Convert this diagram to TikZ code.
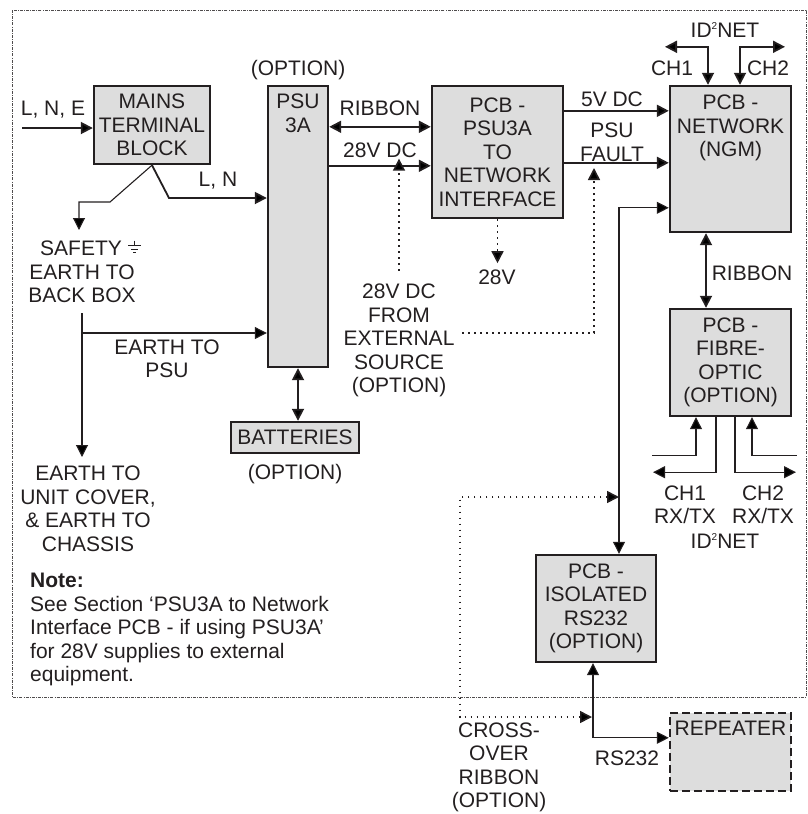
\documentclass[tikz,border=0pt]{standalone}
\usepackage{fontspec}
\setmainfont{Liberation Sans}
\usetikzlibrary{arrows.meta,positioning}

\definecolor{boxgray}{RGB}{221,221,221}
\definecolor{ink}{RGB}{35,31,32}

% earth symbol after SAFETY
\newcommand{\gndsym}{\tikz[x=1pt,y=1pt,baseline=0pt,line width=1.1pt]{%
  \draw (6.5,15)--(6.5,10) (0,10)--(13,10) (3,6.5)--(10,6.5) (5,3)--(8,3);}}
\newcommand{\idnet}{ID\raisebox{8pt}{\fontsize{10pt}{10pt}\selectfont 2}NET}

\begin{document}
\begin{tikzpicture}[
    x=1pt, y=-1pt,
    >={Triangle[length=12pt,width=12pt]},
    every node/.style={font=\fontsize{21pt}{23.5pt}\selectfont, text=ink},
    box/.style={draw=ink, line width=2.4pt, fill=boxgray, inner sep=0pt, align=center},
    toptxt/.style={anchor=north, inner sep=0pt, align=center},
    lbl/.style={inner sep=0pt, align=center},
    conn/.style={draw=ink, line width=1.8pt},
    thinconn/.style={draw=ink, line width=1.1pt},
    dotline/.style={draw=ink, line width=1.6pt, dash pattern=on 1.6pt off 4.4pt},
    frame/.style={draw=ink!80, line width=0.7pt, dash pattern=on 3pt off 1.2pt on 0.8pt off 1.2pt}
]
    \useasboundingbox (0,0) rectangle (808,814);
    \draw[frame] (12,10) rectangle (806,697);

    % boxes
    \node[box, minimum width=116pt, minimum height=78pt] (mains) at (152,125) {MAINS\\TERMINAL\\BLOCK};
    \node[box, minimum width=60pt, minimum height=281pt] (psu) at (298,226.5) {};
    \node[toptxt, below=9pt of psu.north] (psutxt) {PSU\\3A};
    \node[lbl, above=5pt of psu] (psuopt) {(OPTION)};
    \node[box, minimum width=131pt, minimum height=132pt] (iface) at (497.5,152) {PCB -\\PSU3A\\TO\\NETWORK\\INTERFACE};
    \node[box, minimum width=121pt, minimum height=146pt] (ngm) at (730.5,159) {};
    \node[toptxt, below=10pt of ngm.north] (ngmtxt) {PCB -\\NETWORK\\(NGM)};
    \node[box, minimum width=128pt, minimum height=31pt] (batt) at (295,437.5) {BATTERIES};
    \node[lbl, below=10pt of batt] (battopt) {(OPTION)};
    \node[box, minimum width=121pt, minimum height=107pt] (fibre) at (730.5,362.5) {PCB -\\FIBRE-\\OPTIC\\(OPTION)};
    \node[box, minimum width=120pt, minimum height=107pt] (iso) at (596,608.5) {PCB -\\ISOLATED\\RS232\\(OPTION)};
    \node[box, dash pattern=on 8pt off 4pt, minimum width=121pt, minimum height=78pt] (rep) at (730.5,752) {};
    \node[toptxt, below=9pt of rep.north] (reptxt) {REPEATER};

    % labels
    \node[lbl] (lnelbl) at (53,110) {L, N, E};
    \node[lbl] (lnlbl) at (218,181) {L, N};
    \node[lbl] (ribbonA) at (380,108) {RIBBON};
    \node[lbl] (dcA) at (380,150) {28V DC};
    \node[lbl] (v5lbl) at (612,99) {5V DC};
    \node[lbl] (faultlbl) at (612,142.5) {PSU\\FAULT};
    \node[lbl] (idnetA) at (725,30) {\idnet};
    \node[lbl] (ch1) at (672,68) {CH1};
    \node[lbl] (ch2) at (768,68) {CH2};
    \node[lbl] (v28) at (497,277) {28V};
    \node[lbl] (ext) at (399,340.5) {28V DC\\FROM\\EXTERNAL\\SOURCE\\(OPTION)};
    \node[lbl] (safety) at (82,271.5) {\hspace*{18pt}SAFETY \gndsym\\EARTH TO\\BACK BOX};
    \node[lbl] (ribbonB) at (752,273) {RIBBON};
    \node[lbl] (earthpsu) at (167,359) {EARTH TO\\PSU};
    \node[lbl] (earthcover) at (88,509) {EARTH TO\\UNIT COVER,\\\& EARTH TO\\CHASSIS};
    \node[lbl] (rx1) at (685,505) {CH1\\RX/TX};
    \node[lbl] (rx2) at (763,505) {CH2\\RX/TX};
    \node[lbl] (idnetB) at (725,541) {\idnet};
    \node[lbl, anchor=west, align=left] (note) at (30,629.5)
        {\textbf{Note:}\\See Section ‘PSU3A to Network\\Interface PCB - if using PSU3A’\\for 28V supplies to external\\equipment.};
    \node[lbl] (xover) at (499,767.5) {CROSS-\\OVER\\RIBBON\\(OPTION)};
    \node[lbl] (rs232) at (627,758) {RS232};

    % bends and free ends
    \coordinate (lnein) at (22,128);
    \coordinate (lnbend) at (169,198);
    \coordinate (sfbend) at (110,202);
    \coordinate (sftip) at (79,230);
    \coordinate (etop) at (82,313);
    \coordinate (ejoin) at (82,333);
    \coordinate (etip) at (82,457);
    \coordinate (extR) at (462,333);
    \coordinate (faulttip) at (594,168);
    \coordinate (xotop) at (619,497);
    \coordinate (xobot) at (460,717);
    \coordinate (xotip) at (592,717);

    % mains side
    \draw[conn,->] (lnein) -- (lnein -| mains.west);
    \draw[conn,->] (mains.south) -- (lnbend) -- (lnbend -| psu.west);
    \draw[thinconn,->] (mains.south) -- (sfbend) -| (sftip);
    \draw[thinconn,->] (etop) -- (etip);
    \draw[thinconn,->] (ejoin) -- (ejoin -| psu.west);
    \draw[conn,<->] (psu.south) -- (psu.south |- batt.north);

    % psu to interface to network
    \draw[conn,<->] ([yshift=-42pt]psu.north east) -- ([yshift=-42pt]iface.north west);
    \draw[conn,->] ([yshift=-81pt]psu.north east) -- ([yshift=-81pt]iface.north west);
    \draw[conn,->] ([yshift=-26pt]iface.north east) -- ([yshift=-26pt]ngm.north west);
    \draw[conn,->] ([yshift=-78pt]iface.north east) -- ([yshift=-78pt]ngm.north west);
    \draw[dotline,->] (iface.south) -- ++(0,44);
    \draw[dotline,->] ([yshift=13pt]ext.north) -- ([yshift=-1pt]ext.north |- dcA.south);
    \draw[dotline,->] (extR) -| (faulttip);

    % network side
    \draw[conn,<->] ([xshift=-22.5pt]ngm.north) |- ++(-43,-38);
    \draw[conn,<->] ([xshift=9.5pt]ngm.north) |- ++(45,-38);
    \draw[conn,<->] ([xshift=-24.5pt]ngm.south) -- ([xshift=-24.5pt]fibre.north);
    \draw[thinconn,<-] ([xshift=-34.5pt]fibre.south) |- ++(-44,38);
    \draw[thinconn,->] ([xshift=-14.5pt]fibre.south) |- ++(-63,55);
    \draw[thinconn,->] ([xshift=4.5pt]fibre.south) |- ++(61,55);
    \draw[thinconn,<-] ([xshift=21.5pt]fibre.south) |- ++(45,38);

    % rs232 path
    \draw[thinconn,<->] ([yshift=-123pt]ngm.north west) -| ([xshift=23pt]iso.north);
    \draw[thinconn,<->] ([xshift=-3pt]iso.south) |- ([yshift=-26pt]rep.north west);
    \draw[dotline,<->] (xotop) -| (xobot) -- (xotip);
\end{tikzpicture}
\end{document}
